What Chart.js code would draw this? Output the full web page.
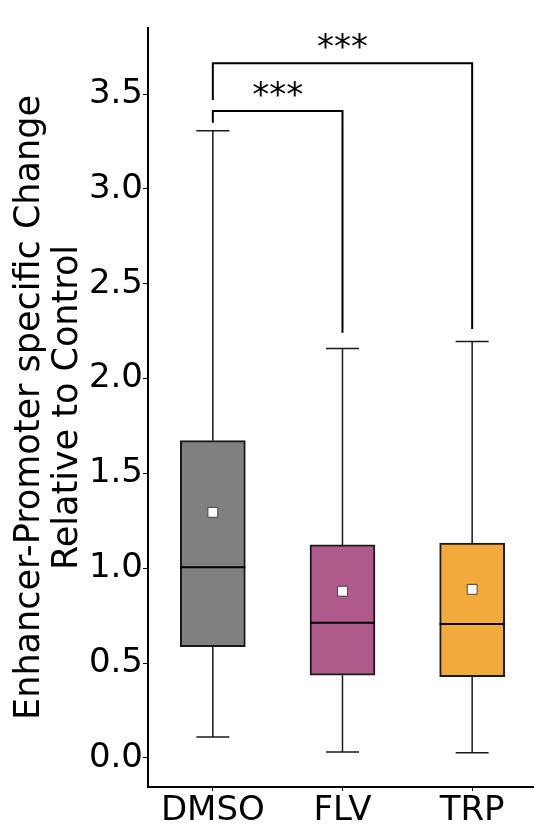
<!DOCTYPE html>
<html>
<head>
<meta charset="utf-8">
<script src="https://cdn.jsdelivr.net/npm/chart.js@4.4.1/dist/chart.umd.min.js"></script>
<style>
  html, body { margin: 0; padding: 0; background: #fff; }
  #wrap { width: 534px; height: 840px; }
</style>
</head>
<body>
<div id="wrap"><canvas id="boxChart" width="534" height="840"></canvas></div>
<script>
// 各组箱线图数据
const groups = ['DMSO', 'FLV', 'TRP'];
const whiskerLow = [0.111, 0.032, 0.028];
const q1Values = [0.587, 0.436, 0.429];
const medianValues = [1.005, 0.713, 0.706];
const q3Values = [1.673, 1.123, 1.133];
const whiskerHigh = [3.307, 2.158, 2.196];
const meanValues = [1.295, 0.879, 0.889];
const yTicks = [0, 0.5, 1, 1.5, 2, 2.5, 3, 3.5];

// 显著性标注
const sigPairs = [[0, 1], [0, 2]];
const sigTop = [3.411, 3.662];
const sigLeftEnd = [3.349, 3.468];
const sigRightEnd = [2.242, 2.261];
const sigLabels = ['***', '***'];

const boxColors = ['#808080', '#b05a8c', '#f3aa3d'];
const FONT = 'DejaVu Sans';

Chart.defaults.font.family = FONT;
Chart.defaults.color = '#000';

/**
 * 须线、中位线和显著性括号
 */
const boxPlotExtras = {
  id: 'boxPlotExtras',
  beforeDatasetsDraw(chart) {
    const { ctx, scales: { x, y } } = chart;
    ctx.save();
    ctx.strokeStyle = '#1a1a1a';
    ctx.lineWidth = 1.5;
    groups.forEach((g, i) => {
      const cx = x.getPixelForValue(i);
      const capHalf = 16.5;
      ctx.beginPath();
      ctx.moveTo(cx, y.getPixelForValue(q3Values[i]));
      ctx.lineTo(cx, y.getPixelForValue(whiskerHigh[i]));
      ctx.moveTo(cx, y.getPixelForValue(q1Values[i]));
      ctx.lineTo(cx, y.getPixelForValue(whiskerLow[i]));
      [whiskerHigh[i], whiskerLow[i]].forEach(v => {
        const py = y.getPixelForValue(v);
        ctx.moveTo(cx - capHalf, py);
        ctx.lineTo(cx + capHalf, py);
      });
      ctx.stroke();
    });
    ctx.restore();
  },
  afterDatasetsDraw(chart) {
    const { ctx, scales: { x, y } } = chart;
    const bar = chart.getDatasetMeta(0).data;
    ctx.save();
    // 中位线
    ctx.strokeStyle = '#000';
    ctx.lineWidth = 2;
    groups.forEach((g, i) => {
      const half = bar[i].width / 2;
      const cx = x.getPixelForValue(i);
      const py = y.getPixelForValue(medianValues[i]);
      ctx.beginPath();
      ctx.moveTo(cx - half, py);
      ctx.lineTo(cx + half, py);
      ctx.stroke();
    });
    // 括号
    ctx.lineWidth = 2;
    ctx.font = '34px "' + FONT + '"';
    ctx.fillStyle = '#000';
    ctx.textAlign = 'center';
    ctx.textBaseline = 'alphabetic';
    sigPairs.forEach(([a, b], k) => {
      const xa = x.getPixelForValue(a);
      const xb = x.getPixelForValue(b);
      const top = y.getPixelForValue(sigTop[k]);
      ctx.beginPath();
      ctx.moveTo(xa, y.getPixelForValue(sigLeftEnd[k]));
      ctx.lineTo(xa, top);
      ctx.lineTo(xb, top);
      ctx.lineTo(xb, y.getPixelForValue(sigRightEnd[k]));
      ctx.stroke();
      ctx.fillText(sigLabels[k], (xa + xb) / 2, top - 5);
    });
    ctx.restore();
  }
};

const chart = new Chart(document.getElementById('boxChart'), {
  type: 'bar',
  data: {
    datasets: [
      {
        type: 'bar',
        order: 2,
        data: groups.map((g, i) => ({ x: i, y: [q1Values[i], q3Values[i]] })),
        backgroundColor: boxColors,
        borderColor: '#1a1a1a',
        borderWidth: 2,
        borderSkipped: false,
        barThickness: 65
      },
      {
        type: 'scatter',
        order: 1,
        data: groups.map((g, i) => ({ x: i, y: meanValues[i] })),
        pointStyle: 'rect',
        radius: 7,
        backgroundColor: '#fff',
        borderColor: '#444',
        borderWidth: 1
      }
    ]
  },
  options: {
    responsive: false,
    animation: false,
    devicePixelRatio: 1,
    layout: { autoPadding: false, padding: { top: 28, left: 0, right: 0, bottom: 0 } },
    plugins: {
      legend: { display: false },
      tooltip: { enabled: false }
    },
    scales: {
      x: {
        type: 'linear',
        offset: false,
        min: -0.5,
        max: 2.477,
        afterBuildTicks: s => { s.ticks = groups.map((g, i) => ({ value: i })); },
        afterFit: s => { s.height = 53; s.paddingLeft = 0; s.paddingRight = 0; },
        ticks: {
          callback: v => groups[v],
          font: { size: 34 },
          color: '#000',
          padding: 0,
          autoSkip: false,
          maxRotation: 0
        },
        grid: { offset: false, drawOnChartArea: false, drawTicks: true, tickLength: 4, color: '#000' },
        border: { color: '#000', width: 2 }
      },
      y: {
        type: 'linear',
        min: -0.153,
        max: 3.848,
        afterBuildTicks: s => { s.ticks = yTicks.map(v => ({ value: v })); },
        afterFit: s => { s.width = 148; },
        ticks: {
          callback: v => v.toFixed(1),
          font: { size: 34 },
          color: '#000',
          padding: 0
        },
        grid: { drawOnChartArea: false, drawTicks: true, tickLength: 5, color: '#000' },
        border: { color: '#000', width: 2 },
        title: {
          display: true,
          text: ['Enhancer-Promoter specific Change', 'Relative to Control'],
          font: { size: 35, lineHeight: 1.086 },
          color: '#000',
          padding: { top: 11, bottom: 0 }
        }
      }
    }
  },
  plugins: [boxPlotExtras]
});
</script>
</body>
</html>
